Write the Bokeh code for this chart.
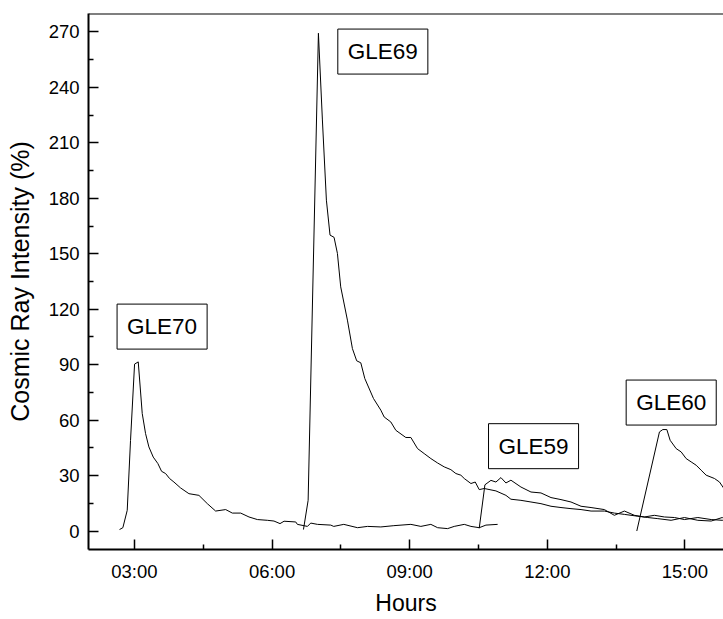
from bokeh.plotting import figure
from bokeh.models import FixedTicker, Label, Range1d, Span
from bokeh.embed import file_html
from bokeh.resources import INLINE

# ---- data (hours of day, cosmic ray intensity %) ----
gle70_hours = [2.676, 2.749, 2.844, 2.916, 3.004, 3.084, 3.171, 3.244, 3.316, 3.411,
               3.512, 3.593, 3.680, 3.767, 3.862, 4.007, 4.189, 4.407, 4.590, 4.771,
               4.990, 5.135, 5.317, 5.498, 5.680, 5.898, 6.043, 6.174, 6.262, 6.517,
               6.553, 6.772, 6.844, 6.990, 7.280, 7.345, 7.564, 7.863, 8.081, 8.371,
               8.655, 9.026, 9.244, 9.462, 9.609, 9.827, 9.971, 10.190, 10.335, 10.516,
               10.662, 10.917]
gle70_vals = [0.8, 1.8, 11.2, 49.0, 90.3, 91.5, 63.6, 52.7, 45.5, 40.0,
              36.5, 32.3, 31.1, 28.4, 26.5, 23.3, 20.2, 19.3, 14.8, 10.8,
              11.6, 9.7, 9.7, 7.6, 6.2, 5.8, 5.4, 4.0, 5.3, 4.9,
              3.6, 2.5, 4.3, 3.6, 3.2, 2.5, 3.6, 1.8, 2.5, 2.2,
              2.9, 3.6, 2.5, 3.6, 1.8, 1.3, 2.5, 3.6, 2.5, 1.8,
              3.2, 3.6]

gle69_hours = [6.685, 6.787, 7.011, 7.098, 7.185, 7.264, 7.352, 7.425, 7.497, 7.643,
               7.752, 7.845, 7.935, 8.022, 8.211, 8.371, 8.444, 8.589, 8.698, 8.916,
               9.026, 9.171, 9.316, 9.462, 9.609, 9.753, 9.898, 10.007, 10.116, 10.190,
               10.335, 10.429, 10.516, 10.625, 10.880, 11.098, 11.207, 11.425, 11.644, 11.862,
               12.080, 12.298, 12.516, 12.735, 12.953, 13.243, 13.461, 13.680, 13.972, 14.190,
               14.408, 14.698, 14.989, 15.281, 15.572, 15.812, 15.900]
gle69_vals = [0.8, 16.6, 269.3, 222.4, 179.0, 160.1, 158.9, 150.2, 132.1, 114.1,
              98.7, 92.1, 91.0, 82.5, 71.7, 65.4, 61.7, 59.0, 54.5, 50.6,
              50.6, 44.6, 41.9, 39.2, 36.8, 34.7, 33.2, 31.1, 30.2, 28.4,
              25.7, 26.5, 22.4, 23.0, 21.7, 19.3, 17.2, 16.6, 15.7, 14.8,
              13.4, 12.7, 12.1, 11.6, 10.8, 10.8, 9.7, 9.0, 8.0, 7.3,
              6.7, 5.8, 7.3, 5.8, 5.4, 7.3, 6.0]

gle59_hours = [10.516, 10.640, 10.771, 10.880, 10.989, 11.098, 11.207, 11.425, 11.644, 11.862,
               12.080, 12.298, 12.516, 12.735, 12.953, 13.243, 13.461, 13.680, 13.898, 14.116,
               14.334, 14.553, 14.771, 14.989, 15.281, 15.572, 15.812, 15.900]
gle59_vals = [1.5, 25.0, 27.4, 26.5, 28.9, 26.0, 27.5, 23.8, 21.1, 20.6,
              18.1, 17.0, 15.7, 13.4, 12.7, 11.6, 8.5, 10.8, 8.5, 7.6,
              8.5, 7.6, 7.3, 6.2, 7.3, 6.2, 5.8, 6.0]

gle60_hours = [13.950, 14.444, 14.517, 14.605, 14.677, 14.808, 14.917, 15.026, 15.135, 15.244,
               15.353, 15.462, 15.644, 15.753, 15.849, 15.900]
gle60_vals = [0.0, 53.6, 54.9, 54.9, 49.1, 44.6, 42.8, 39.2, 37.4, 35.6,
              32.9, 30.2, 28.4, 26.5, 23.0, 22.0]

x_ticks = [3, 6, 9, 12, 15]
x_tick_labels = ["03:00", "06:00", "09:00", "12:00", "15:00"]
x_minor = [4.5, 7.5, 10.5, 13.5]
y_ticks = [0, 30, 60, 90, 120, 150, 180, 210, 240, 270]
y_minor = [15, 45, 75, 105, 135, 165, 195, 225, 255]

event_names = ["GLE70", "GLE69", "GLE59", "GLE60"]
event_label_x = [3.604, 8.415, 11.70, 14.70]
event_label_y = [110.6, 259.4, 45.9, 69.5]

x_title = "Hours"
y_title = "Cosmic Ray Intensity (%)"

FONT = "Liberation Sans"

p = figure(width=723, height=619, x_range=Range1d(2.0, 15.84), y_range=Range1d(-10, 280),
           output_backend="svg", toolbar_location=None,
           min_border_left=88, min_border_right=0, min_border_top=13, min_border_bottom=70)
p.grid.visible = False
p.outline_line_color = None
p.background_fill_color = "white"
p.border_fill_color = "white"

for hrs, vals in [(gle70_hours, gle70_vals), (gle69_hours, gle69_vals),
                  (gle59_hours, gle59_vals), (gle60_hours, gle60_vals)]:
    p.line(hrs, vals, line_color="black", line_width=1)

xa = p.xaxis[0]
xa.ticker = FixedTicker(ticks=x_ticks, minor_ticks=x_minor)
xa.major_label_overrides = {t: l for t, l in zip(x_ticks, x_tick_labels)}
ya = p.yaxis[0]
ya.ticker = FixedTicker(ticks=y_ticks, minor_ticks=y_minor)

for ax in (xa, ya):
    ax.axis_line_width = 2
    ax.axis_line_color = "black"
    ax.major_tick_in = 10
    ax.major_tick_out = 0
    ax.minor_tick_in = 5
    ax.minor_tick_out = 0
    ax.major_tick_line_width = 1.5
    ax.minor_tick_line_width = 1.5
    ax.major_tick_line_color = "black"
    ax.minor_tick_line_color = "black"
    ax.major_label_text_font = FONT
    ax.major_label_text_font_size = "18.5px"
    ax.major_label_text_color = "black"
    ax.axis_label_text_font = FONT
    ax.axis_label_text_font_style = "normal"
    ax.axis_label_text_color = "black"

xa.major_label_standoff = 11
xa.axis_label = x_title
xa.axis_label_text_font_size = "23px"
xa.axis_label_standoff = 5
ya.major_label_standoff = 9
ya.axis_label = y_title
ya.axis_label_text_font_size = "25px"
ya.axis_label_standoff = 12

# top frame line
p.add_layout(Span(location=280, dimension="width", line_color="black", line_width=2))

for name, lx, ly in zip(event_names, event_label_x, event_label_y):
    p.add_layout(Label(x=lx, y=ly, text=name, text_align="center", text_baseline="middle",
                       text_font=FONT, text_font_size="22.5px", text_color="black",
                       border_line_color="black", border_line_width=1,
                       background_fill_color="white", padding=10))

open("out.html", "w").write(file_html(p, INLINE))
